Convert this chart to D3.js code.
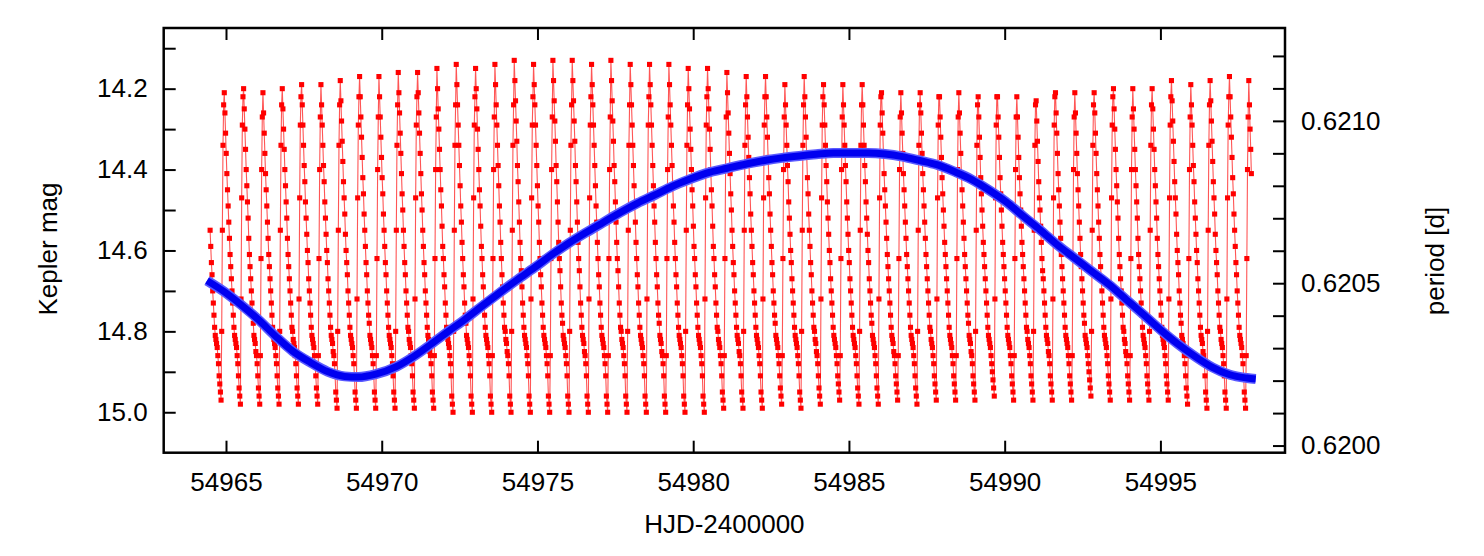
<!DOCTYPE html>
<html>
<head>
<meta charset="utf-8">
<script src="https://cdn.jsdelivr.net/npm/d3@7"></script>
<style>
	body{margin:0;background:#fff;}
	text{font-family:"Liberation Sans",Helvetica,Arial,sans-serif;}
</style>
</head>
<body>
<div id="chart" style="width:1484px;height:556px;"></div>
<script>

// Kepler light curve, evenly sampled; one row per pulsation cycle
const lcStart = 54964.490;    // HJD-2400000 of the first sample
const lcCadence = 0.020687;   // days between samples
const lcMag = [
	[14.55,14.59,14.63,14.66,14.70,14.73,14.76,14.79,14.81,14.82,14.83,14.84,14.86,14.88,14.91,14.93,14.95,14.97,14.80,14.55,14.34,14.24],
	[14.21,14.26,14.31,14.36,14.41,14.45,14.49,14.53,14.57,14.61,14.64,14.67,14.70,14.73,14.76,14.79,14.81,14.82,14.83,14.84,14.86,14.88,14.91,14.94,14.96,14.98,14.72,14.47,14.29,14.22],
	[14.20,14.25,14.30,14.35,14.40,14.44,14.48,14.52,14.57,14.61,14.64,14.67,14.70,14.73,14.76,14.78,14.81,14.82,14.83,14.85,14.86,14.88,14.91,14.94,14.96,14.98,14.86,14.62,14.40,14.27],
	[14.21,14.26,14.31,14.36,14.41,14.45,14.49,14.53,14.57,14.61,14.64,14.67,14.70,14.73,14.76,14.79,14.81,14.82,14.83,14.84,14.86,14.88,14.91,14.94,14.96,14.98,14.80,14.55,14.34,14.24],
	[14.20,14.25,14.30,14.35,14.40,14.44,14.48,14.52,14.57,14.61,14.64,14.67,14.70,14.73,14.76,14.79,14.80,14.82,14.83,14.84,14.86,14.88,14.91,14.94,14.96,14.98,14.72,14.47,14.29,14.22],
	[14.19,14.24,14.29,14.34,14.39,14.43,14.48,14.52,14.56,14.60,14.63,14.67,14.70,14.73,14.76,14.79,14.81,14.82,14.83,14.84,14.86,14.88,14.91,14.94,14.96,14.98,14.86,14.62,14.40,14.27],
	[14.19,14.24,14.29,14.34,14.39,14.43,14.48,14.52,14.56,14.60,14.63,14.67,14.70,14.73,14.76,14.79,14.81,14.82,14.83,14.85,14.86,14.88,14.91,14.95,14.97,14.99,14.80,14.55,14.34,14.24],
	[14.18,14.23,14.28,14.33,14.38,14.43,14.47,14.51,14.56,14.60,14.63,14.66,14.70,14.73,14.76,14.79,14.81,14.82,14.83,14.84,14.86,14.88,14.91,14.95,14.97,14.99,14.72,14.47,14.29,14.22],
	[14.17,14.22,14.27,14.32,14.37,14.42,14.46,14.51,14.55,14.59,14.63,14.66,14.70,14.73,14.76,14.78,14.81,14.82,14.83,14.84,14.86,14.88,14.91,14.95,14.97,14.99,14.86,14.62,14.40,14.27],
	[14.17,14.22,14.27,14.32,14.37,14.42,14.46,14.51,14.55,14.59,14.63,14.66,14.70,14.73,14.76,14.79,14.81,14.82,14.83,14.84,14.86,14.88,14.91,14.95,14.97,14.99,14.80,14.55,14.34,14.24],
	[14.16,14.21,14.26,14.31,14.36,14.41,14.46,14.50,14.55,14.59,14.63,14.66,14.70,14.73,14.76,14.79,14.80,14.82,14.83,14.84,14.86,14.88,14.91,14.95,14.97,14.99,14.72,14.47,14.29,14.22],
	[14.16,14.21,14.26,14.31,14.36,14.41,14.46,14.50,14.55,14.59,14.63,14.66,14.70,14.73,14.76,14.79,14.81,14.82,14.83,14.85,14.86,14.88,14.91,14.95,14.97,14.99,14.86,14.62,14.40,14.27],
	[14.15,14.20,14.25,14.30,14.35,14.40,14.45,14.49,14.54,14.59,14.62,14.66,14.69,14.73,14.76,14.79,14.81,14.82,14.83,14.84,14.86,14.88,14.91,14.96,14.98,15.00,14.80,14.55,14.34,14.24],
	[14.14,14.19,14.24,14.29,14.34,14.39,14.44,14.49,14.53,14.58,14.62,14.66,14.69,14.73,14.76,14.78,14.81,14.82,14.83,14.84,14.86,14.88,14.91,14.96,14.98,15.00,14.72,14.47,14.29,14.22],
	[14.15,14.20,14.25,14.30,14.35,14.40,14.45,14.49,14.54,14.59,14.62,14.66,14.69,14.73,14.76,14.79,14.81,14.82,14.83,14.84,14.86,14.88,14.91,14.96,14.98,15.00,14.86,14.62,14.40,14.27],
	[14.14,14.19,14.24,14.29,14.34,14.39,14.44,14.49,14.53,14.58,14.62,14.66,14.69,14.73,14.76,14.79,14.80,14.82,14.83,14.85,14.86,14.88,14.91,14.96,14.98,15.00,14.80,14.55,14.34,14.24],
	[14.13,14.18,14.23,14.28,14.33,14.39,14.43,14.48,14.53,14.58,14.62,14.65,14.69,14.73,14.76,14.79,14.81,14.82,14.83,14.84,14.86,14.88,14.91,14.96,14.98,15.00,14.72,14.47,14.29,14.22],
	[14.14,14.19,14.24,14.29,14.34,14.39,14.44,14.49,14.53,14.58,14.62,14.66,14.69,14.73,14.76,14.79,14.81,14.82,14.83,14.84,14.86,14.88,14.91,14.96,14.98,15.00,14.86,14.62,14.40,14.27],
	[14.13,14.18,14.23,14.28,14.33,14.39,14.43,14.48,14.53,14.58,14.62,14.65,14.69,14.73,14.76,14.78,14.81,14.82,14.83,14.84,14.86,14.88,14.91,14.96,14.98,15.00,14.80,14.55,14.34,14.24],
	[14.13,14.18,14.23,14.28,14.33,14.39,14.43,14.48,14.53,14.58,14.62,14.65,14.69,14.73,14.76,14.79,14.81,14.82,14.83,14.85,14.86,14.88,14.91,14.96,14.98,15.00,14.72,14.47,14.29,14.22],
	[14.14,14.19,14.24,14.29,14.34,14.39,14.44,14.49,14.53,14.58,14.62,14.66,14.69,14.73,14.76,14.79,14.81,14.82,14.83,14.84,14.86,14.88,14.91,14.96,14.98,15.00,14.86,14.62,14.40,14.27],
	[14.13,14.18,14.23,14.28,14.33,14.39,14.43,14.48,14.53,14.58,14.62,14.65,14.69,14.73,14.76,14.79,14.80,14.82,14.83,14.84,14.86,14.88,14.91,14.96,14.98,15.00,14.80,14.55,14.34,14.24],
	[14.14,14.19,14.24,14.29,14.34,14.39,14.44,14.49,14.53,14.58,14.62,14.66,14.69,14.73,14.76,14.79,14.81,14.82,14.83,14.84,14.86,14.88,14.91,14.96,14.98,15.00,14.72,14.47,14.29,14.22],
	[14.14,14.19,14.24,14.29,14.34,14.39,14.44,14.49,14.53,14.58,14.62,14.66,14.69,14.73,14.76,14.78,14.81,14.82,14.83,14.85,14.86,14.88,14.91,14.96,14.98,15.00,14.86,14.62,14.40,14.27],
	[14.14,14.19,14.24,14.29,14.34,14.39,14.44,14.49,14.53,14.58,14.62,14.66,14.69,14.73,14.76,14.79,14.81,14.82,14.83,14.84,14.86,14.88,14.91,14.96,14.98,15.00,14.80,14.55,14.34,14.24],
	[14.15,14.20,14.25,14.30,14.35,14.40,14.45,14.49,14.54,14.59,14.62,14.66,14.69,14.73,14.76,14.79,14.81,14.82,14.83,14.84,14.86,14.88,14.91,14.96,14.98,15.00,14.72,14.47,14.29,14.22],
	[14.15,14.20,14.25,14.30,14.35,14.40,14.45,14.49,14.54,14.59,14.62,14.66,14.69,14.73,14.76,14.79,14.80,14.82,14.83,14.84,14.86,14.88,14.91,14.95,14.97,14.99,14.86,14.62,14.40,14.27],
	[14.16,14.21,14.26,14.31,14.36,14.41,14.46,14.50,14.55,14.59,14.63,14.66,14.70,14.73,14.76,14.79,14.81,14.82,14.83,14.85,14.86,14.88,14.91,14.95,14.97,14.99,14.80,14.55,14.34,14.24],
	[14.17,14.22,14.27,14.32,14.37,14.42,14.46,14.51,14.55,14.59,14.63,14.66,14.70,14.73,14.76,14.79,14.81,14.82,14.83,14.84,14.86,14.88,14.91,14.95,14.97,14.99,14.72,14.47,14.29,14.22],
	[14.17,14.22,14.27,14.32,14.37,14.42,14.46,14.51,14.55,14.59,14.63,14.66,14.70,14.73,14.76,14.78,14.81,14.82,14.83,14.84,14.86,14.88,14.91,14.94,14.96,14.98,14.86,14.62,14.40,14.27],
	[14.19,14.24,14.29,14.34,14.39,14.43,14.48,14.52,14.56,14.60,14.63,14.67,14.70,14.73,14.76,14.79,14.81,14.82,14.83,14.84,14.86,14.88,14.91,14.95,14.97,14.99,14.80,14.55,14.34,14.24],
	[14.17,14.22,14.27,14.32,14.37,14.42,14.46,14.51,14.55,14.59,14.63,14.66,14.70,14.73,14.76,14.79,14.80,14.82,14.83,14.85,14.86,14.88,14.91,14.94,14.96,14.98,14.72,14.47,14.29,14.22],
	[14.19,14.24,14.29,14.34,14.39,14.43,14.48,14.52,14.56,14.60,14.63,14.67,14.70,14.73,14.76,14.79,14.81,14.82,14.83,14.84,14.86,14.88,14.91,14.93,14.95,14.97,14.86,14.62,14.40,14.27],
	[14.19,14.24,14.29,14.34,14.39,14.43,14.48,14.52,14.56,14.60,14.63,14.67,14.70,14.73,14.76,14.79,14.81,14.82,14.83,14.84,14.86,14.88,14.91,14.94,14.96,14.98,14.80,14.55,14.34,14.24],
	[14.19,14.24,14.29,14.34,14.39,14.43,14.48,14.52,14.56,14.60,14.63,14.67,14.70,14.73,14.76,14.78,14.81,14.82,14.83,14.84,14.86,14.88,14.91,14.94,14.96,14.98,14.72,14.47,14.29,14.22],
	[14.21,14.26,14.31,14.36,14.41,14.45,14.49,14.53,14.57,14.61,14.64,14.67,14.70,14.73,14.76,14.79,14.81,14.82,14.83,14.85,14.86,14.88,14.91,14.93,14.95,14.97,14.86,14.62,14.40,14.27],
	[14.21,14.26,14.31,14.36,14.41,14.45,14.49,14.53,14.57,14.61,14.64,14.67,14.70,14.73,14.76,14.79,14.81,14.82,14.83,14.84,14.86,14.88,14.91,14.94,14.96,14.98,14.80,14.55,14.34,14.24],
	[14.21,14.26,14.31,14.36,14.41,14.45,14.49,14.53,14.57,14.61,14.64,14.67,14.70,14.73,14.76,14.79,14.80,14.82,14.83,14.84,14.86,14.88,14.91,14.93,14.95,14.97,14.72,14.47,14.29,14.22],
	[14.22,14.27,14.32,14.37,14.42,14.46,14.50,14.54,14.58,14.61,14.64,14.67,14.70,14.73,14.76,14.79,14.81,14.82,14.83,14.84,14.86,14.88,14.91,14.93,14.95,14.97,14.86,14.62,14.40,14.27],
	[14.21,14.26,14.31,14.36,14.41,14.45,14.49,14.53,14.57,14.61,14.64,14.67,14.70,14.73,14.76,14.78,14.81,14.82,14.83,14.85,14.86,14.88,14.91,14.93,14.95,14.97,14.80,14.55,14.34,14.24],
	[14.22,14.27,14.32,14.37,14.42,14.46,14.50,14.54,14.58,14.61,14.64,14.67,14.70,14.73,14.76,14.79,14.81,14.82,14.83,14.84,14.86,14.88,14.90,14.92,14.94,14.96,14.72,14.47,14.29,14.22],
	[14.22,14.27,14.32,14.37,14.42,14.46,14.50,14.54,14.58,14.61,14.64,14.67,14.70,14.73,14.76,14.79,14.81,14.82,14.83,14.84,14.86,14.88,14.91,14.93,14.95,14.97,14.86,14.62,14.40,14.27],
	[14.22,14.27,14.32,14.37,14.42,14.46,14.50,14.54,14.58,14.61,14.64,14.67,14.70,14.73,14.76,14.79,14.80,14.82,14.83,14.84,14.86,14.88,14.91,14.93,14.95,14.97,14.80,14.55,14.34,14.24],
	[14.23,14.28,14.33,14.38,14.43,14.47,14.50,14.54,14.58,14.62,14.65,14.67,14.70,14.73,14.76,14.79,14.81,14.82,14.83,14.85,14.86,14.88,14.91,14.93,14.95,14.97,14.72,14.47,14.29,14.22],
	[14.21,14.26,14.31,14.36,14.41,14.45,14.49,14.53,14.57,14.61,14.64,14.67,14.70,14.73,14.76,14.79,14.81,14.82,14.83,14.84,14.86,14.88,14.91,14.93,14.95,14.97,14.86,14.62,14.40,14.27],
	[14.21,14.26,14.31,14.36,14.41,14.45,14.49,14.53,14.57,14.61,14.64,14.67,14.70,14.73,14.76,14.78,14.81,14.82,14.83,14.84,14.86,14.88,14.90,14.92,14.94,14.96,14.80,14.55,14.34,14.24],
	[14.21,14.26,14.31,14.36,14.41,14.45,14.49,14.53,14.57,14.61,14.64,14.67,14.70,14.73,14.76,14.79,14.81,14.82,14.83,14.84,14.86,14.88,14.91,14.93,14.95,14.97,14.72,14.47,14.29,14.22],
	[14.20,14.25,14.30,14.35,14.40,14.44,14.48,14.52,14.57,14.61,14.64,14.67,14.70,14.73,14.76,14.79,14.80,14.82,14.83,14.85,14.86,14.88,14.91,14.93,14.95,14.97,14.86,14.62,14.40,14.27],
	[14.20,14.25,14.30,14.35,14.40,14.44,14.48,14.52,14.57,14.61,14.64,14.67,14.70,14.73,14.76,14.79,14.81,14.82,14.83,14.84,14.86,14.88,14.91,14.93,14.95,14.97,14.80,14.55,14.34,14.24],
	[14.20,14.25,14.30,14.35,14.40,14.44,14.48,14.52,14.57,14.61,14.64,14.67,14.70,14.73,14.76,14.79,14.81,14.82,14.83,14.84,14.86,14.88,14.91,14.93,14.95,14.97,14.72,14.47,14.29,14.22],
	[14.18,14.23,14.28,14.33,14.38,14.43,14.47,14.51,14.56,14.60,14.63,14.66,14.70,14.73,14.76,14.78,14.81,14.82,14.83,14.84,14.86,14.88,14.91,14.94,14.96,14.98,14.86,14.62,14.40,14.27],
	[14.19,14.24,14.29,14.34,14.39,14.43,14.48,14.52,14.56,14.60,14.63,14.67,14.70,14.73,14.76,14.79,14.81,14.82,14.83,14.85,14.86,14.88,14.91,14.95,14.97,14.99,14.80,14.55,14.34,14.24],
	[14.18,14.23,14.28,14.33,14.38,14.43,14.47,14.51,14.56,14.60,14.63,14.66,14.70,14.73,14.76,14.79,14.80,14.82,14.83,14.84,14.86,14.88,14.91,14.95,14.97,14.99,14.72,14.47,14.29,14.22],
	[14.17,14.22,14.27,14.32,14.37,14.42,14.46,14.51,14.55,14.59,14.63,14.66,14.70,14.73,14.76,14.79,14.81,14.82,14.83,14.84,14.86,14.88,14.91,14.95,14.97,14.99,14.86,14.62,14.40,14.27],
	[14.18,14.24,14.30,14.35,14.41]
];

// pulsation period derived along the light curve (right axis)
const periodHJD = [54964.39,54964.94,54965.49,54966.05,54966.60,54967.15,54967.71,54968.26,54968.81,54969.25,
	54969.81,54970.47,54971.02,54971.58,54972.13,54972.69,54973.24,54973.79,54974.34,54974.90,
	54975.45,54976.00,54976.56,54977.11,54977.66,54978.22,54978.77,54979.32,54979.88,54980.43,
	54981.09,54981.74,54982.29,54982.85,54983.40,54983.95,54984.50,54985.06,54985.61,54986.16,
	54986.72,54987.27,54987.82,54988.38,54988.93,54989.48,54990.04,54990.59,54991.14,54991.69,
	54992.25,54992.80,54993.36,54993.91,54994.46,54995.01,54995.57,54996.12,54996.67,54997.23,
	54997.78,54998.06];
const periodDays = [0.620508,0.620474,0.620433,0.620387,0.620336,0.620290,0.620256,0.620228,0.620213,0.620211,
	0.620220,0.620243,0.620274,0.620312,0.620351,0.620390,0.620431,0.620471,0.620510,0.620548,
	0.620587,0.620623,0.620656,0.620687,0.620718,0.620747,0.620772,0.620798,0.620820,0.620839,
	0.620854,0.620868,0.620878,0.620886,0.620892,0.620897,0.620901,0.620901,0.620901,0.620898,
	0.620890,0.620878,0.620865,0.620844,0.620820,0.620788,0.620751,0.620707,0.620664,0.620618,
	0.620577,0.620536,0.620495,0.620449,0.620403,0.620356,0.620312,0.620274,0.620241,0.620218,
	0.620208,0.620205];

// axes
const hjdTicks = [54965,54970,54975,54980,54985,54990,54995];
const magTicks = [14.1,14.2,14.3,14.4,14.5,14.6,14.7,14.8,14.9,15.0];
const magLabels = [14.2,14.4,14.6,14.8,15.0];
const periodTicks = [0.6200,0.6201,0.6202,0.6203,0.6204,0.6205,0.6206,0.6207,0.6208,0.6209,0.6210,0.6211,0.6212];
const periodLabels = [0.6200,0.6205,0.6210];

const rootDOM = document.getElementById("chart");
const W = 1484;
const H = 556;
const m = {t:28, l:163.7, b:103.3, r:199};
const w = W - m.l - m.r;
const h = H - m.t - m.b;

const scaleX = d3.scaleLinear()
				.domain([54963, 54999])
				.range([0, w]);

const scaleY = d3.scaleLinear()
				.domain([14.05, 15.1])
				.range([0, h]);

const scaleP = d3.scaleLinear()
				.domain([0.619978, 0.621286])
				.range([h, 0]);

const lc = lcMag.flat().map((mag, i) => ({t: lcStart + i*lcCadence, mag: mag}));
const per = periodHJD.map((t, i) => ({t: t, p: periodDays[i]}));

const svg = d3.select(rootDOM)
			.append("svg")
			.attr("width", W)
			.attr("height", H);

const plot = svg.append("g")
				.attr("class", "plot")
				.attr("transform", `translate(${m.l},${m.t})`);

// light curve
const lineGenerator = d3.line()
						.x(d => scaleX(d.t))
						.y(d => scaleY(d.mag));

plot.append("path")
	.datum(lc)
	.attr("class", "line")
	.attr("d", lineGenerator)
	.style("fill", "none")
	.style("stroke", "#ff2a2a")
	.style("stroke-opacity", 0.8)
	.style("stroke-width", "1.1px");

plot.append("g")
	.attr("class", "points")
	.selectAll("path")
	.data(lc)
	.join("path")
	.attr("d", d3.symbol(d3.symbolSquare).size(26))
	.attr("transform", d => `translate(${scaleX(d.t)},${scaleY(d.mag)})`)
	.style("fill", "#ff0000");

// period curve
const periodLine = d3.line()
					.x(d => scaleX(d.t))
					.y(d => scaleP(d.p))
					.curve(d3.curveMonotoneX);

plot.append("path")
	.datum(per)
	.attr("d", periodLine)
	.style("fill", "none")
	.style("stroke", "#5a5aff")
	.style("stroke-width", "10px");

plot.append("path")
	.datum(per)
	.attr("d", periodLine)
	.style("fill", "none")
	.style("stroke", "#0000f0")
	.style("stroke-width", "7px");

plot.append("g")
	.selectAll("path")
	.data(per)
	.join("path")
	.attr("d", d3.symbol(d3.symbolX).size(40))
	.attr("transform", d => `translate(${scaleX(d.t)},${scaleP(d.p)})`)
	.style("fill", "#0000ff");

// axes
const styleAxis = g => {
	g.select(".domain").remove();
	g.selectAll(".tick line").attr("stroke", "#000").attr("stroke-width", 2);
	g.selectAll(".tick text").attr("fill", "#000");
	g.attr("font-size", 26).attr("font-family", "Liberation Sans, Helvetica, Arial, sans-serif");
};

plot.append("g")
	.attr("class", "axis axis-x")
	.attr("transform", `translate(0,${h})`)
	.call(d3.axisBottom(scaleX).tickValues(hjdTicks).tickSize(-12).tickPadding(20).tickFormat(d3.format("d")))
	.call(styleAxis);

plot.append("g")
	.attr("class", "axis axis-x2")
	.call(d3.axisTop(scaleX).tickValues(hjdTicks).tickSize(-12).tickFormat(""))
	.call(styleAxis);

plot.append("g")
	.attr("class", "axis axis-y")
	.call(d3.axisLeft(scaleY).tickValues(magTicks).tickSize(-12).tickPadding(16)
			.tickFormat(d => magLabels.includes(d) ? d.toFixed(1) : ""))
	.call(styleAxis);

plot.append("g")
	.attr("class", "axis axis-p")
	.attr("transform", `translate(${w},0)`)
	.call(d3.axisRight(scaleP).tickValues(periodTicks).tickSize(-12).tickPadding(16)
			.tickFormat(d => periodLabels.includes(d) ? d.toFixed(4) : ""))
	.call(styleAxis);

plot.append("rect")
	.attr("width", w)
	.attr("height", h)
	.style("fill", "none")
	.style("stroke", "#000")
	.style("stroke-width", 2.5);

// titles
svg.append("text")
	.attr("x", m.l + w/2)
	.attr("y", 533)
	.attr("text-anchor", "middle")
	.attr("font-size", 26)
	.text("HJD-2400000");

svg.append("text")
	.attr("transform", "translate(57,249) rotate(-90)")
	.attr("text-anchor", "middle")
	.attr("font-size", 26)
	.text("Kepler mag");

svg.append("text")
	.attr("transform", "translate(1444,261) rotate(-90)")
	.attr("text-anchor", "middle")
	.attr("font-size", 26)
	.text("period [d]");

</script>
</body>
</html>
